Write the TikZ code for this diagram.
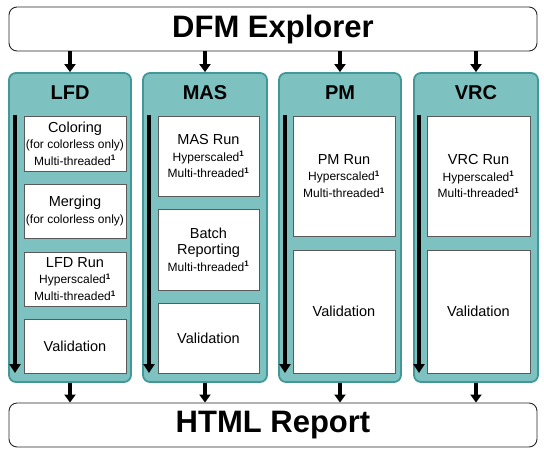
\documentclass[tikz,border=0pt]{standalone}
\usepackage{fontspec}
\setmainfont{Liberation Sans}
\usetikzlibrary{arrows.meta}
\definecolor{tealfill}{RGB}{126,193,193}
\definecolor{tealline}{RGB}{66,152,152}
\definecolor{boxline}{RGB}{90,90,90}
\newcommand{\bigt}{\fontsize{14.5}{16.5}\selectfont}
\newcommand{\supo}{\textsuperscript{\textbf{1}}}
\begin{document}
\begin{tikzpicture}[x=1pt,y=-1pt,
  mainbox/.style={draw=black!85, line width=0.9pt, rounded corners=8pt, fill=white,
    minimum width=528pt, minimum height=44pt, inner sep=0pt,
    font=\fontsize{31}{36}\selectfont\bfseries},
  colbox/.style={draw=tealline, fill=tealfill, line width=1.8pt, rounded corners=7pt,
    minimum height=309pt, inner sep=0pt},
  coltitle/.style={font=\fontsize{20}{24}\selectfont\bfseries, inner sep=0pt},
  ibox/.style={draw=boxline, fill=white, line width=0.8pt, align=center, inner sep=0pt,
    font=\fontsize{12}{16.5}\selectfont},
  arr/.style={line width=3.2pt, -{Triangle[width=11pt,length=8pt]}},
  iarr/.style={line width=3.6pt, -{Triangle[width=11pt,length=9pt]}},
]
\useasboundingbox (0,0) rectangle (544,456);

% top and bottom boxes
\node[mainbox] (dfm) at (273,29) {DFM Explorer};
\node[mainbox] (html) at (273,425) {HTML Report};

% columns
\node[colbox, minimum width=122pt] (lfd) at (70,227.5) {};
\node[colbox, minimum width=124pt] (mas) at (205,227.5) {};
\node[colbox, minimum width=122pt] (pm) at (340,227.5) {};
\node[colbox, minimum width=124pt] (vrc) at (476,227.5) {};

\node[coltitle] (lfdT) at (70,93) {LFD};
\node[coltitle] (masT) at (205,93) {MAS};
\node[coltitle] (pmT) at (340,93) {PM};
\node[coltitle] (vrcT) at (476,93) {VRC};

% LFD inner boxes
\node[ibox, minimum width=102pt, minimum height=55pt] (l1) at (75,143.5)
  {{\bigt Coloring}\\(for colorless only)\\Multi-threaded\supo};
\node[ibox, minimum width=102pt, minimum height=54pt] (l2) at (75,211)
  {{\bigt Merging}\\(for colorless only)};
\node[ibox, minimum width=102pt, minimum height=54pt] (l3) at (75,279)
  {{\bigt LFD Run}\\Hyperscaled\supo\\Multi-threaded\supo};
\node[ibox, minimum width=102pt, minimum height=54pt] (l4) at (75,346)
  {{\bigt Validation}};

% MAS inner boxes
\node[ibox, minimum width=101pt, minimum height=80pt] (m1) at (208.5,156)
  {{\bigt MAS Run}\\Hyperscaled\supo\\Multi-threaded\supo};
\node[ibox, minimum width=101pt, minimum height=81pt] (m2) at (208.5,249.5)
  {{\bigt Batch}\\{\bigt Reporting}\\Multi-threaded\supo};
\node[ibox, minimum width=101pt, minimum height=70pt] (m3) at (208.5,338)
  {{\bigt Validation}};

% PM inner boxes
\node[ibox, minimum width=102pt, minimum height=120pt] (p1) at (344,176)
  {{\bigt PM Run}\\Hyperscaled\supo\\Multi-threaded\supo};
\node[ibox, minimum width=102pt, minimum height=123pt] (p2) at (344,311.5)
  {{\bigt Validation}};

% VRC inner boxes
\node[ibox, minimum width=103pt, minimum height=120pt] (v1) at (478.5,176)
  {{\bigt VRC Run}\\Hyperscaled\supo\\Multi-threaded\supo};
\node[ibox, minimum width=103pt, minimum height=123pt] (v2) at (478.5,311.5)
  {{\bigt Validation}};

% inner flow arrows
\coordinate (la1) at (15,115);  \coordinate (la2) at (15,373);
\coordinate (ma1) at (149,115); \coordinate (ma2) at (149,373);
\coordinate (pa1) at (285,115); \coordinate (pa2) at (285,373);
\coordinate (va1) at (419,115); \coordinate (va2) at (419,373);
\draw[iarr] (la1) -- (la2);
\draw[iarr] (ma1) -- (ma2);
\draw[iarr] (pa1) -- (pa2);
\draw[iarr] (va1) -- (va2);

% connectors
\foreach \c in {lfd,mas,pm,vrc}{
  \draw[arr] (dfm.south -| \c.north) -- (\c.north);
  \draw[arr] (\c.south) -- (html.north -| \c.south);
}
\end{tikzpicture}
\end{document}
